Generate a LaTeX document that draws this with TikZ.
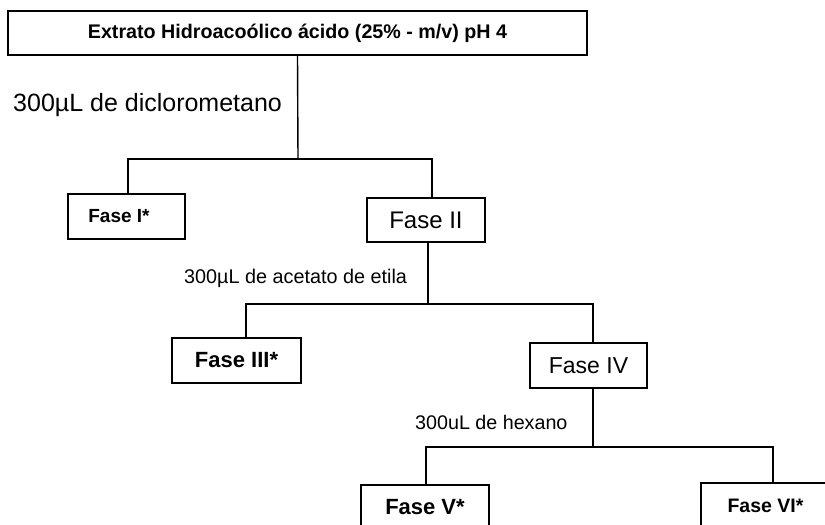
\documentclass[tikz,border=0pt]{standalone}
\usepackage{fontspec}
\setmainfont{Liberation Sans}
\begin{document}
\begin{tikzpicture}[x=1pt,y=-1pt,
  box/.style={draw,line width=1.6pt,inner sep=0pt,minimum height=45pt},
  conn/.style={line width=1.4pt},
  lbl/.style={anchor=west,inner sep=0pt},
  fs/.style={font=\fontsize{#1}{#1}\selectfont},
  fsb/.style={font=\fontsize{#1}{#1}\selectfont\bfseries}]
\useasboundingbox (0,0) rectangle (825,525);
\clip (0,0) rectangle (825,525);
% boxes
\node[box,fsb=19.7,minimum width=579pt,minimum height=44pt] (top) at (297.5,33) {Extrato Hidroacoólico ácido (25\% - m/v) pH 4};
\node[box,fsb=19,minimum width=117pt] (f1) at (126.5,216.5) {\hspace*{-15pt}Fase I*};
\node[box,fs=24,minimum width=118pt,minimum height=44pt] (f2) at (426,220) {Fase II};
\node[box,fsb=22,minimum width=129pt] (f3) at (236.5,360.5) {Fase III*};
\node[box,fs=23,minimum width=117pt] (f4) at (588.5,365.5) {Fase IV};
\node[box,fsb=22,minimum width=128pt] (f5) at (425,507.5) {Fase V*};
\node[box,fsb=19.5,minimum width=129pt] (f6) at (765.5,505.5) {Fase VI*};
% labels
\node[lbl,fs=25] (l1) at (13,105) {300µL de diclorometano};
\node[lbl,fs=19.8] (l2) at (184,278) {300µL de acetato de etila};
\node[lbl,fs=19.7] (l3) at (415,422) {300uL de hexano};
% junctions
\coordinate (j1) at (298,159);
\coordinate (j2) at (428,304);
\coordinate (j3) at (593,447);
% connectors
\draw[conn] (top.south) -- (j1);
\draw[conn] ([xshift=1.5pt]f1.north) |- (j1) -| ([xshift=6pt]f2.north);
\draw[conn] ([xshift=2pt]f2.south) -- (j2);
\draw[conn] ([xshift=9.5pt]f3.north) |- (j2) -| ([xshift=4.5pt]f4.north);
\draw[conn] ([xshift=4.5pt]f4.south) -- (j3);
\draw[conn] ([xshift=1pt]f5.north) |- (j3) -| ([xshift=7.5pt]f6.north);
\end{tikzpicture}
\end{document}
